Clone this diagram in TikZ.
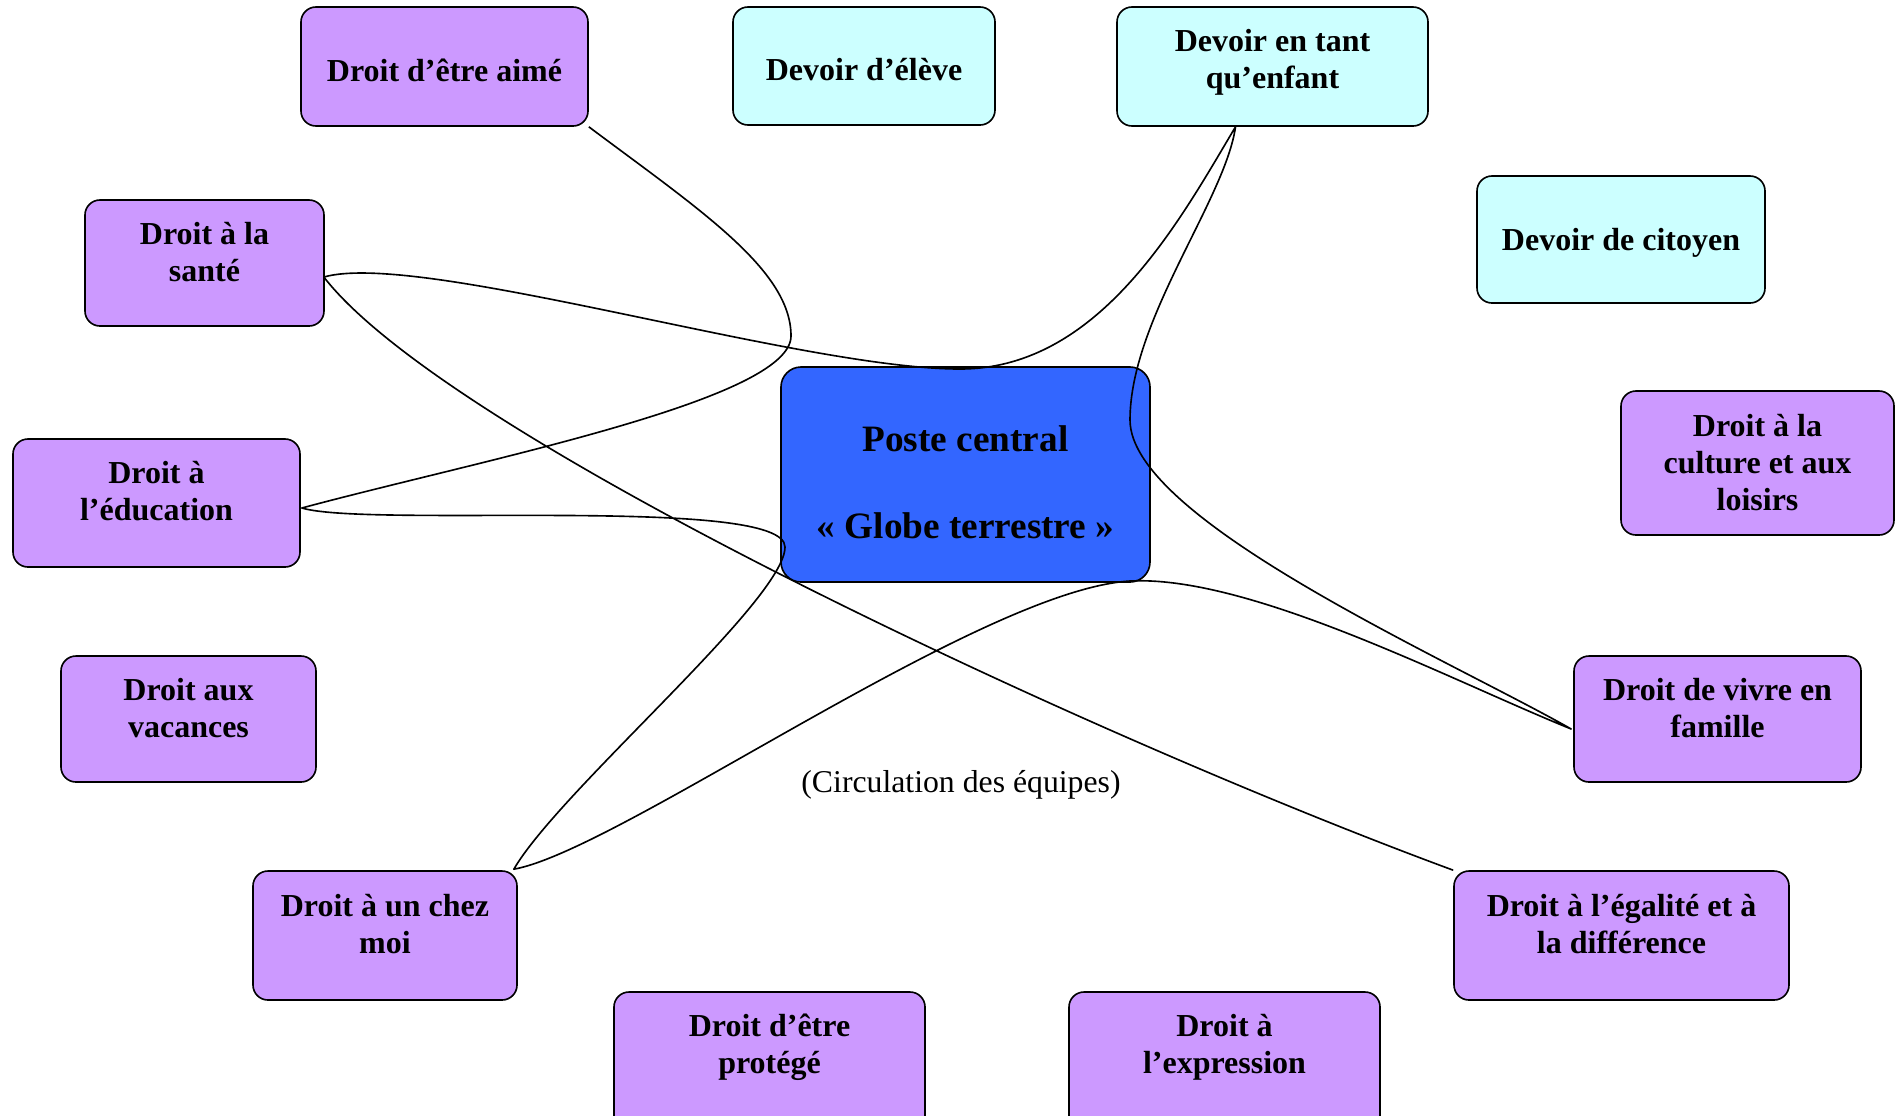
\documentclass[tikz,border=0pt]{standalone}
\usepackage{fontspec}
\setmainfont{Liberation Serif}
\usetikzlibrary{calc}
\definecolor{vio}{HTML}{CC99FF}
\definecolor{cya}{HTML}{CCFFFF}
\definecolor{blu}{HTML}{3366FF}
\newcommand{\bxt}[2]{\raisebox{#1}[\height][\depth]{\begin{tabular}{@{}c@{}}#2\end{tabular}}}
\begin{document}
\begin{tikzpicture}[x=0.4pt,y=-0.4pt,
  box/.style={draw=black, line width=0.65pt, rounded corners=6pt, inner sep=0pt,
    font=\fontsize{12.8}{14.8}\selectfont\bfseries},
  pbox/.style={box, fill=vio},
  cbox/.style={box, fill=cya},
  sz/.style 2 args={minimum width=#1*0.4pt, minimum height=#2*0.4pt},
  curve/.style={draw=black, line width=0.65pt, line join=round}]
\clip (0,0) rectangle (1898,1115);
\node[pbox, sz={287}{119}] (aime) at (444.5,66.5) {\bxt{-3pt}{Droit d’être aimé}};
\node[cbox, sz={262}{118}] (eleve) at (864,66) {\bxt{-3pt}{Devoir d’élève}};
\node[cbox, sz={311}{119}] (enfant) at (1272.5,66.5) {\bxt{1.6pt}{Devoir en tant\\qu’enfant}};
\node[cbox, sz={288}{127}] (citoyen) at (1621,239.5) {\bxt{-1.4pt}{Devoir de citoyen}};
\node[pbox, sz={239}{126}] (sante) at (204.5,263) {\bxt{2.8pt}{Droit à la\\santé}};
\node[box, fill=blu, rounded corners=8pt, sz={369}{215}, font=\fontsize{14.9}{17.4}\selectfont\bfseries] (poste) at (965.5,474.5) {\bxt{-4.6pt}{Poste central\\ \\«~Globe terrestre~»}};
\node[pbox, sz={273}{144}] (culture) at (1757.5,463) {\bxt{-1.2pt}{Droit à la\\culture et aux\\loisirs}};
\node[pbox, sz={287}{128}] (educ) at (156.5,503) {\bxt{3.2pt}{Droit à\\l’éducation}};
\node[pbox, sz={255}{126}] (vacances) at (188.5,719) {\bxt{3pt}{Droit aux\\vacances}};
\node[pbox, sz={287}{126}] (famille) at (1717.5,719) {\bxt{3pt}{Droit de vivre en\\famille}};
\node[pbox, sz={264}{129}] (chez) at (385,935.5) {\bxt{3.2pt}{Droit à un chez\\moi}};
\node[pbox, sz={335}{129}] (egalite) at (1621.5,935.5) {\bxt{3.2pt}{Droit à l’égalité et à\\la différence}};
\node[pbox, sz={311}{140}] (protege) at (769.5,1062) {\bxt{5.8pt}{Droit d’être\\protégé}};
\node[pbox, sz={311}{140}] (expression) at (1224.5,1062) {\bxt{5.8pt}{Droit à\\l’expression}};
\node[font=\fontsize{12.7}{14.6}\selectfont] (circ) at (961,785) {(Circulation des équipes)};
\draw[curve] (aime.south east)
 .. controls (700,210) and (791,270) .. (791,336)
 .. controls (791,400) and (480,460) .. ($(educ.east)+(1,5)$)
 .. controls (370,528) and (785,495) .. (785,547)
 .. controls (785,600) and (560,790) .. ($(chez.north east)+(-4,-1)$)
 .. controls (620,850) and (980,590) .. (1130,581)
 .. controls (1250,575) and (1450,680) .. ($(famille.west)+(-2,10)$)
 .. controls (1450,660) and (1130,520) .. (1130,420)
 .. controls (1130,320) and (1225,200) .. ($(enfant.south)+(-37,0)$)
 .. controls (1180,220) and (1100,369) .. (960,369)
 .. controls (800,369) and (420,250) .. ($(sante.east)+(-1,14)$)
 .. controls (450,440) and (1100,740) .. (egalite.north west);
\end{tikzpicture}
\end{document}
